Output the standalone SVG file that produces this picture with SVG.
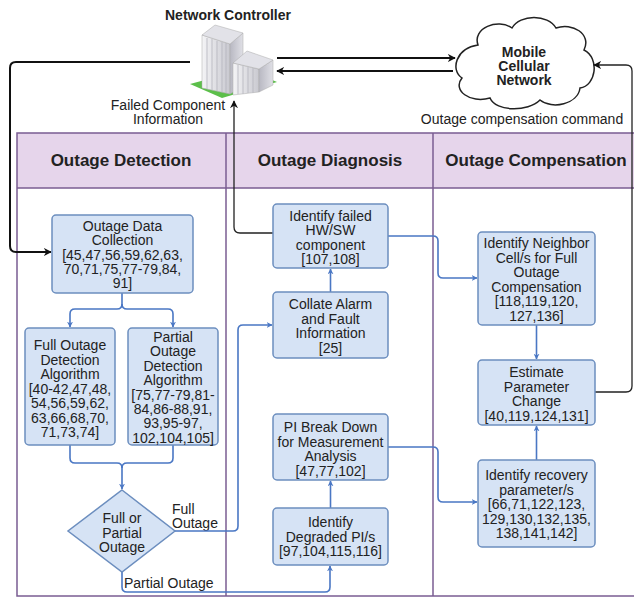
<svg xmlns="http://www.w3.org/2000/svg" width="634" height="599" viewBox="0 0 634 599">
<style>
text{font-family:"Liberation Sans",Arial,sans-serif;fill:#222;}
.t{font-size:14px;text-anchor:middle;}
.h{font-size:17px;font-weight:bold;text-anchor:middle;}
.b{font-size:14px;font-weight:bold;text-anchor:middle;}
.box{fill:#d6e3f5;stroke:#6c8ebf;stroke-width:1.5;}
.lane{fill:none;stroke:#7a5c92;stroke-width:1.5;}
.blue{fill:none;stroke:#4a77c4;stroke-width:1.6;}
.blk{fill:none;stroke:#111;stroke-width:2;}
.blk1{fill:none;stroke:#222;stroke-width:1.3;}
</style>
<defs>
<marker id="ab" viewBox="0 0 10 10" refX="9" refY="5" markerWidth="6" markerHeight="6" markerUnits="userSpaceOnUse" orient="auto"><path d="M0,0 L10,5 L0,10 L3,5 Z" fill="#4a77c4"/></marker>
<marker id="ak" viewBox="0 0 10 10" refX="9" refY="5" markerWidth="8" markerHeight="8" markerUnits="userSpaceOnUse" orient="auto"><path d="M0,0 L10,5 L0,10 L3,5 Z" fill="#111"/></marker>
<linearGradient id="gw" x1="0" y1="0" x2="1" y2="0"><stop offset="0" stop-color="#f4f4f6"/><stop offset="1" stop-color="#c9c9d0"/></linearGradient>
<linearGradient id="gs" x1="0" y1="0" x2="1" y2="0"><stop offset="0" stop-color="#b8b8c2"/><stop offset="1" stop-color="#e0e0e6"/></linearGradient>
</defs>

<g id="lanes">
<rect x="17" y="133" width="620" height="55" fill="#e6d5eb"/>
<rect class="lane" x="17" y="133" width="620" height="463"/>
<line class="lane" x1="17" y1="188" x2="637" y2="188"/>
<line class="lane" x1="226" y1="133" x2="226" y2="596"/>
<line class="lane" x1="433" y1="133" x2="433" y2="596"/>
<text class="h" x="121" y="166">Outage Detection</text>
<text class="h" x="330" y="166">Outage Diagnosis</text>
<text class="h" x="536" y="166">Outage Compensation</text>
</g>

<g id="network-controller">
<text class="b" x="228" y="20">Network Controller</text>
<polygon points="190,84 222,98 277,82 246,69" fill="#5cbf4a"/>
<polygon points="202,35 230,44 230,94 202,88" fill="url(#gw)" stroke="#aaa" stroke-width="0.5"/>
<polygon points="230,44 243,33 243,86 230,94" fill="url(#gs)" stroke="#aaa" stroke-width="0.5"/>
<polygon points="202,35 215,25 243,33 230,44" fill="#e2e2e8" stroke="#aaa" stroke-width="0.5"/>
<polygon points="233,63 259,69 259,92 233,95" fill="url(#gw)" stroke="#aaa" stroke-width="0.5"/>
<polygon points="259,69 273,60 273,85 259,92" fill="url(#gs)" stroke="#aaa" stroke-width="0.5"/>
<polygon points="233,63 247,51 273,60 259,69" fill="#e2e2e8" stroke="#aaa" stroke-width="0.5"/>
<g stroke="#b4b4bd" stroke-width="0.8">
<line x1="207" y1="38" x2="207" y2="89"/><line x1="212" y1="39" x2="212" y2="90"/><line x1="217" y1="41" x2="217" y2="91"/><line x1="222" y1="42" x2="222" y2="92"/><line x1="226" y1="43" x2="226" y2="93"/>
<line x1="238" y1="65" x2="238" y2="94"/><line x1="243" y1="66" x2="243" y2="94"/><line x1="248" y1="67" x2="248" y2="93"/><line x1="253" y1="68" x2="253" y2="93"/>
</g>
</g>

<g id="mobile-cellular-network">
<path d="M478,45 C472,28 498,18 512,28 C520,14 548,14 556,28 C572,22 592,34 584,50 C600,58 596,86 580,88 C578,104 552,110 540,100 C528,112 496,112 490,98 C470,104 452,90 462,78 C450,70 456,48 478,45 Z" fill="#fff" stroke="#222" stroke-width="1.5"/>
<text class="b" x="524" y="57">Mobile</text>
<text class="b" x="524" y="71">Cellular</text>
<text class="b" x="524" y="85">Network</text>
</g>

<g id="labels">
<text class="t" x="168" y="110">Failed Component</text>
<text class="t" x="168" y="124">Information</text>
<text class="t" x="522" y="124">Outage compensation command</text>
<text x="172" y="514" style="font-size:14px">Full</text>
<text x="172" y="528" style="font-size:14px">Outage</text>
<text x="124" y="588" style="font-size:14px">Partial Outage</text>
</g>

<g id="connectors">
<path class="blk" d="M190,62 H16 Q10,62 10,68 V246 Q10,252 16,252 H51" marker-end="url(#ak)"/>
<path class="blk" d="M277,58 H455" marker-end="url(#ak)"/>
<path class="blk" d="M453,71 H277" marker-end="url(#ak)"/>
<path class="blk1" d="M273,233 H240 Q234,233 234,227 V101" marker-end="url(#ak)"/>
<path class="blk1" d="M595,392 H626 Q632,392 632,386 V71 Q632,65 626,65 H594" marker-end="url(#ak)"/>

<path class="blue" d="M122,293 V304 Q122,309 117,309 H75 Q70,309 70,314 V327" marker-end="url(#ab)"/>
<path class="blue" d="M122,304 Q122,309 127,309 H168 Q173,309 173,314 V327" marker-end="url(#ab)"/>
<path class="blue" d="M70,445 V458 Q70,463 75,463 H117 Q122,463 122,468 V489" marker-end="url(#ab)"/>
<path class="blue" d="M173,445 V458 Q173,463 168,463 H127 Q122,463 122,468"/>
<path class="blue" d="M175,531 H233 Q238,531 238,526 V330 Q238,325 243,325 H272" marker-end="url(#ab)"/>
<path class="blue" d="M122,572 V587 Q122,592 127,592 H325 Q330,592 330,587 V566" marker-end="url(#ab)"/>
<path class="blue" d="M330.5,292 V269" marker-end="url(#ab)"/>
<path class="blue" d="M330.5,508 V481" marker-end="url(#ab)"/>
<path class="blue" d="M388,236 H433 Q438,236 438,241 V273 Q438,278 443,278 H477" marker-end="url(#ab)"/>
<path class="blue" d="M388,447 H433 Q438,447 438,452 V497 Q438,502 443,502 H477" marker-end="url(#ab)"/>
<path class="blue" d="M536.5,325 V359" marker-end="url(#ab)"/>
<path class="blue" d="M536.5,460 V426" marker-end="url(#ab)"/>
</g>

<g id="outage-data-collection">
<rect class="box" x="52" y="215" width="141" height="78" rx="4"/>
<text class="t" x="122.5" y="231">Outage Data</text>
<text class="t" x="122.5" y="245">Collection</text>
<text class="t" x="122.5" y="259.5">[45,47,56,59,62,63,</text>
<text class="t" x="122.5" y="274">70,71,75,77-79,84,</text>
<text class="t" x="122.5" y="288">91]</text>
</g>

<g id="full-outage-detection">
<rect class="box" x="25" y="328" width="90" height="117" rx="4"/>
<text class="t" x="70" y="350">Full Outage</text>
<text class="t" x="70" y="364.5">Detection</text>
<text class="t" x="70" y="379">Algorithm</text>
<text class="t" x="70" y="393.5">[40-42,47,48,</text>
<text class="t" x="70" y="408">54,56,59,62,</text>
<text class="t" x="70" y="422.5">63,66,68,70,</text>
<text class="t" x="70" y="437">71,73,74]</text>
</g>

<g id="partial-outage-detection">
<rect class="box" x="128" y="328" width="90" height="117" rx="4"/>
<text class="t" x="173" y="342">Partial</text>
<text class="t" x="173" y="356.4">Outage</text>
<text class="t" x="173" y="370.8">Detection</text>
<text class="t" x="173" y="385.2">Algorithm</text>
<text class="t" x="173" y="399.6">[75,77-79,81-</text>
<text class="t" x="173" y="414">84,86-88,91,</text>
<text class="t" x="173" y="428.4">93,95-97,</text>
<text class="t" x="173" y="442.8">102,104,105]</text>
</g>

<g id="full-or-partial">
<polygon class="box" points="122,490 175,531 122,572 68,531"/>
<text class="t" x="122" y="523">Full or</text>
<text class="t" x="122" y="537.5">Partial</text>
<text class="t" x="122" y="552">Outage</text>
</g>

<g id="identify-failed">
<rect class="box" x="273" y="204" width="115" height="64" rx="4"/>
<text class="t" x="330.5" y="220.5">Identify failed</text>
<text class="t" x="330.5" y="235">HW/SW</text>
<text class="t" x="330.5" y="249.5">component</text>
<text class="t" x="330.5" y="264">[107,108]</text>
</g>

<g id="collate-alarm">
<rect class="box" x="273" y="292" width="115" height="66" rx="4"/>
<text class="t" x="330.5" y="309">Collate Alarm</text>
<text class="t" x="330.5" y="323.5">and Fault</text>
<text class="t" x="330.5" y="338">Information</text>
<text class="t" x="330.5" y="352.5">[25]</text>
</g>

<g id="pi-break-down">
<rect class="box" x="273" y="414" width="115" height="66" rx="4"/>
<text class="t" x="330.5" y="432">PI Break Down</text>
<text class="t" x="330.5" y="446.5">for Measurement</text>
<text class="t" x="330.5" y="461">Analysis</text>
<text class="t" x="330.5" y="475.5">[47,77,102]</text>
</g>

<g id="identify-degraded">
<rect class="box" x="273" y="508" width="115" height="57" rx="4"/>
<text class="t" x="330.5" y="527">Identify</text>
<text class="t" x="330.5" y="541.5">Degraded PI/s</text>
<text class="t" x="330.5" y="556">[97,104,115,116]</text>
</g>

<g id="identify-neighbor">
<rect class="box" x="478" y="232" width="117" height="93" rx="4"/>
<text class="t" x="536.5" y="248">Identify Neighbor</text>
<text class="t" x="536.5" y="262.5">Cell/s for Full</text>
<text class="t" x="536.5" y="277">Outage</text>
<text class="t" x="536.5" y="291.5">Compensation</text>
<text class="t" x="536.5" y="306">[118,119,120,</text>
<text class="t" x="536.5" y="320.5">127,136]</text>
</g>

<g id="estimate-parameter">
<rect class="box" x="478" y="360" width="117" height="65" rx="4"/>
<text class="t" x="536.5" y="377">Estimate</text>
<text class="t" x="536.5" y="391.5">Parameter</text>
<text class="t" x="536.5" y="406">Change</text>
<text class="t" x="536.5" y="420.5">[40,119,124,131]</text>
</g>

<g id="identify-recovery">
<rect class="box" x="478" y="460" width="117" height="87" rx="4"/>
<text class="t" x="536.5" y="480">Identify recovery</text>
<text class="t" x="536.5" y="494.5">parameter/s</text>
<text class="t" x="536.5" y="509">[66,71,122,123,</text>
<text class="t" x="536.5" y="523.5">129,130,132,135,</text>
<text class="t" x="536.5" y="538">138,141,142]</text>
</g>
</svg>
